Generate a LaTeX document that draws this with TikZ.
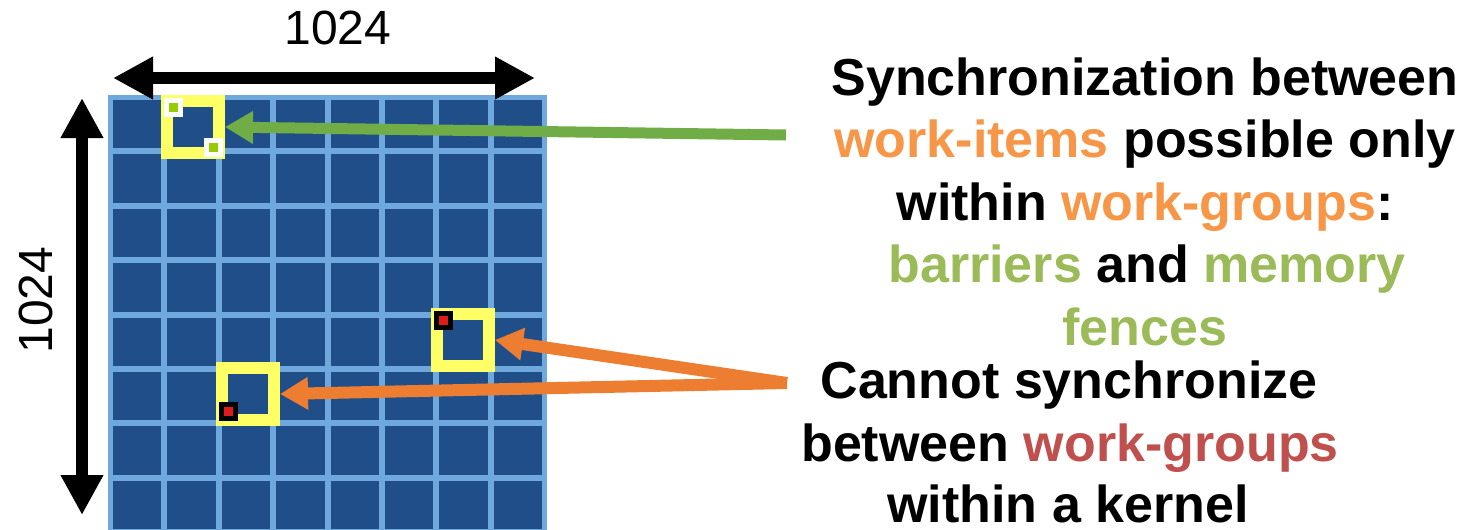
\documentclass[tikz,border=0pt]{standalone}
\usepackage{fontspec}
\setmainfont{Liberation Sans}
\usetikzlibrary{arrows.meta,calc}
\definecolor{cellblue}{HTML}{1F4E89}
\definecolor{gridblue}{HTML}{6FA8DC}
\definecolor{wgyellow}{HTML}{FFFF66}
\definecolor{itemgreen}{HTML}{99CC00}
\definecolor{itemred}{HTML}{E01B1B}
\definecolor{arrowgreen}{HTML}{70AD47}
\definecolor{arroworange}{HTML}{ED7D31}
\definecolor{txtorange}{HTML}{F79646}
\definecolor{txtgreen}{HTML}{9BBB59}
\definecolor{txtred}{HTML}{C0504D}
\tikzset{
	wgbox/.style={draw=wgyellow, line width=12pt, minimum size=52pt, inner sep=0pt},
	dimarrow/.style={line width=12pt, {Triangle[length=40pt,width=40pt]}-{Triangle[length=40pt,width=40pt]}},
	syncarrow/.style={line width=#1, -{Triangle[length=28pt,width=31pt]}},
	bigtext/.style={anchor=base, inner sep=0pt, font=\fontsize{52}{62}\selectfont\bfseries},
	dimtext/.style={anchor=base, inner sep=0pt, font=\fontsize{48}{58}\selectfont}
}
% a work-item: small square with a coloured dot
\newcommand{\witem}[3]{
	\fill[#1] #3 ++(-9.5,-9.5) rectangle ++(19,19);
	\fill[#2] #3 ++(-4.5,-4.5) rectangle ++(9,9);
}
\begin{document}
\begin{tikzpicture}[x=1pt, y=-1pt]
	\useasboundingbox (0,0) rectangle (1476,530);
	% the 8x8 grid of work-groups
	\fill[gridblue] (108,95) rectangle (547,540);
	\foreach \i in {0,...,7}
		\foreach \j in {0,...,7}
			\fill[cellblue] ({113+\i*54.375},{100+\j*54.375}) rectangle ++(48.4,48.4);
%
	\node[wgbox] (wg1) at (193,127) {};
	\node[wgbox] (wg2) at (463,340) {};
	\node[wgbox] (wg3) at (248,394) {};
	\witem{white}{itemgreen}{($(wg1)+(-20,-20)$)}
	\witem{white}{itemgreen}{($(wg1)+(20,20)$)}
	\witem{black}{itemred}{($(wg2)+(-20,-20)$)}
	\witem{black}{itemred}{($(wg3)+(-20,17)$)}
%
	\coordinate (hl) at (113,78);
	\coordinate (hr) at (535,78);
	\coordinate (vt) at (82,98);
	\coordinate (vb) at (82,515);
	\draw[dimarrow] (hl) -- (hr);
	\draw[dimarrow] (vt) -- (vb);
	\node[dimtext] (wlabel) at (338,45) {1024};
	\node[dimtext, rotate=90] (hlabel) at (52,300) {1024};
%
	\node[bigtext] (s1) at (1145,95) {Synchronization between};
	\node[bigtext] (s2) at (1145,157.5) {\textcolor{txtorange}{work-items} possible only};
	\node[bigtext] (s3) at (1145,220) {within \textcolor{txtorange}{work-groups}:};
	\node[bigtext] (s4) at (1147,282.5) {\textcolor{txtgreen}{barriers} and \textcolor{txtgreen}{memory}};
	\node[bigtext] (s5) at (1145,345) {\textcolor{txtgreen}{fences}};
	\node[bigtext] (c1) at (1069,398) {Cannot synchronize};
	\node[bigtext] (c2) at (1070,461) {between \textcolor{txtred}{work-groups}};
	\node[bigtext] (c3) at (1068,522) {within a kernel};
%
	\coordinate (gstart) at (786,135);
	\coordinate (ostart) at (787,383);
	\draw[syncarrow=11pt, arrowgreen] (gstart) -- (wg1.east);
	\draw[syncarrow=12pt, arroworange] (ostart) -- (wg2.east);
	\draw[syncarrow=12pt, arroworange] (ostart) -- (wg3.east);
\end{tikzpicture}
\end{document}
